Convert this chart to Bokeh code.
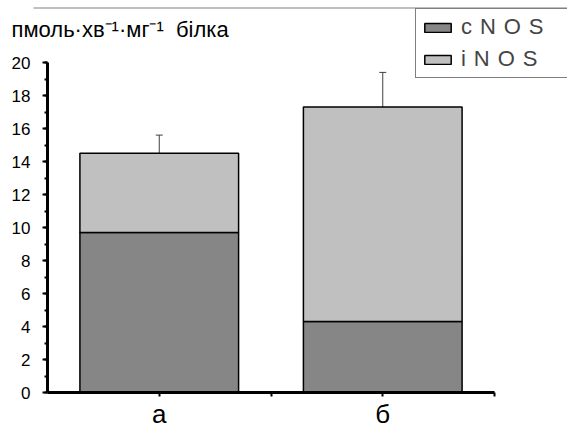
from bokeh.plotting import figure
from bokeh.models import (Range1d, FixedTicker, Whisker, TeeHead, ColumnDataSource,
                          Label, Legend, LegendItem, BoxAnnotation)
from bokeh.embed import file_html
from bokeh.resources import INLINE

categories = ["а", "б"]
series = ["cNOS", "iNOS"]
cnos = [9.7, 4.3]
inos = [4.8, 13.0]
cnos_err = [0.5, 1.0]
total_err = [1.1, 2.1]
y_ticks = list(range(0, 21, 2))
y_label = "пмоль·хв⁻¹·мг⁻¹\u00a0 білка"

FONT = "Liberation Sans"
W, H = 567, 428
# frame covers the whole canvas; data box (0..2, 0..20) sits at px 47..494, 392..62
PX_X = 447 / 2.0
PX_Y = 330 / 20.0
x0 = -47 / PX_X
x1 = 2 + (W - 494) / PX_X
y0 = -(H - 392) / PX_Y
y1 = 20 + 62 / PX_Y

xs = [i + 0.5 for i in range(len(categories))]
totals = [a + b for a, b in zip(cnos, inos)]

src = ColumnDataSource(dict(x=xs, cNOS=cnos, iNOS=inos,
                            c_top=cnos, c_up=[a + e for a, e in zip(cnos, cnos_err)],
                            t_top=totals, t_up=[t + e for t, e in zip(totals, total_err)]))

p = figure(width=W, height=H, output_backend="svg", toolbar_location=None,
           x_range=Range1d(x0, x1), y_range=Range1d(y0, y1),
           min_border_left=0, min_border_right=0, min_border_top=0, min_border_bottom=0)
p.outline_line_color = None
p.grid.visible = False
p.background_fill_color = "white"
p.border_fill_color = "white"

rs = p.vbar_stack(series, x="x", width=0.71, source=src,
                  fill_color=["#868686", "#c0c0c0"], line_color="black", line_width=1.5)

for lo, up in (("c_top", "c_up"), ("t_top", "t_up")):
    w = Whisker(source=src, base="x", lower=lo, upper=up, dimension="height",
                line_color="#404040", line_width=1,
                upper_head=TeeHead(size=7, line_color="#404040", line_width=1), lower_head=None)
    p.add_layout(w)

# y axis
ya = p.yaxis[0]
ya.fixed_location = 0
ya.bounds = (0, 20)
ya.ticker = FixedTicker(ticks=y_ticks, minor_ticks=list(range(0, 21)))
ya.axis_line_width = 3
ya.major_tick_line_width = 2
ya.minor_tick_line_width = 2
ya.major_tick_out = 5
ya.major_tick_in = 0
ya.minor_tick_out = 3
ya.minor_tick_in = 0
ya.major_label_standoff = 12
ya.major_label_text_font = FONT
ya.major_label_text_font_size = "17px"
ya.major_label_text_color = "black"

# x axis
xa = p.xaxis[0]
xa.fixed_location = 0
xa.bounds = (0, len(categories))
xticks = [0.5, 1.0, 1.5, 2.0]
xa.ticker = FixedTicker(ticks=xticks, minor_ticks=[])
overrides = {0.5: categories[0], 1.0: "", 1.5: categories[1], 2.0: ""}
xa.major_label_overrides = {k: v for k, v in overrides.items()}
xa.axis_line_width = 3
xa.major_tick_line_width = 2
xa.major_tick_out = 4
xa.major_tick_in = 0
xa.major_label_standoff = 2
xa.major_label_text_font = FONT
xa.major_label_text_font_size = "26px"
xa.major_label_text_color = "black"

# unit label at top-left
p.add_layout(Label(x=x0 + 11 / PX_X, y=20 + (62 - 29) / PX_Y, text=y_label, text_font=FONT,
                   text_font_size="22px", text_color="black",
                   text_baseline="middle", text_align="left"))

# thin gray rule at top
p.add_layout(BoxAnnotation(left=x0 + 33 / PX_X, right=x1,
                           bottom=20 + (62 - 8) / PX_Y, top=20 + (62 - 7) / PX_Y,
                           fill_color="#808080", fill_alpha=1, line_color=None))

legend = Legend(items=[LegendItem(label="\u00a0\u200a".join(list(s)), renderers=[r]) for s, r in zip(series, rs)],
                location=(415, H - 78), label_text_font=FONT, label_text_font_size="22px",
                glyph_width=33, glyph_height=11, label_standoff=7, label_height=22, spacing=6,
                padding=5, margin=0, border_line_color="black", border_line_width=1,
                label_width=120, background_fill_alpha=1)
p.add_layout(legend, "center")

open("out.html", "w").write(file_html(p, INLINE))
